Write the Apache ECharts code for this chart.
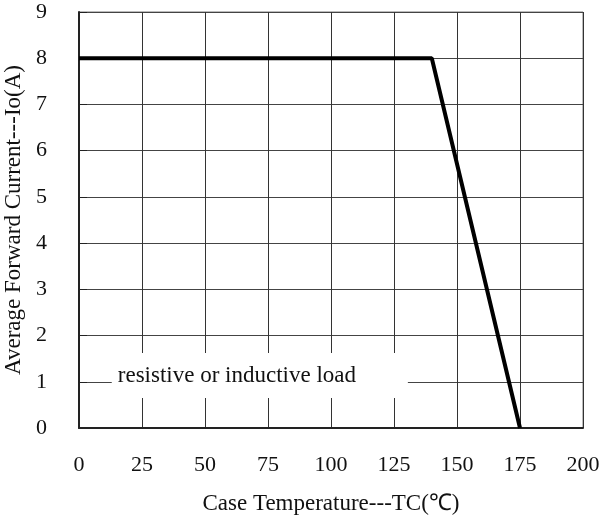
<!DOCTYPE html>
<html>
<head>
<meta charset="utf-8">
<script src="https://cdn.jsdelivr.net/npm/echarts@6/dist/echarts.min.js"></script>
<style>
html,body{margin:0;padding:0;background:#fff;}
#chart{width:602px;height:519px;}
</style>
</head>
<body>
<div id="chart"></div>
<script>
// derating curve: case temperature vs average forward current
var tempPoints = [0, 140, 175];
var currentPoints = [8, 8, 0];
var xTicks = [0, 25, 50, 75, 100, 125, 150, 175, 200];
var yTicks = [0, 1, 2, 3, 4, 5, 6, 7, 8, 9];
var noteText = 'resistive or inductive load';
var noteBox = [[13, 1.62], [130.5, 0.65]];

var font = 'Liberation Serif';
var myChart = echarts.init(document.getElementById('chart'));

var option = {
    backgroundColor: '#fff',
    animation: false,
    grid: {
        left: 79,
        right: 19,
        top: 12,
        bottom: 91,
        outerBoundsMode: 'none',
        containLabel: false,
        show: true,
        borderColor: '#777',
        borderWidth: 1
    },
    xAxis: {
        type: 'value',
        min: xTicks[0],
        max: xTicks[xTicks.length - 1],
        interval: 25,
        name: 'Case Temperature---TC(℃)',
        nameLocation: 'middle',
        nameGap: 64,
        nameTextStyle: {fontFamily: font, fontSize: 23, color: '#111'},
        axisLine: {show: true, onZero: false, lineStyle: {color: '#222', width: 2}},
        axisTick: {show: false},
        axisLabel: {fontFamily: font, fontSize: 22, color: '#111', margin: 26},
        splitLine: {show: true, lineStyle: {color: '#333', width: 1}}
    },
    yAxis: {
        type: 'value',
        min: yTicks[0],
        max: yTicks[yTicks.length - 1],
        interval: 1,
        name: 'Average Forward Current---Io(A)',
        nameLocation: 'middle',
        nameGap: 48,
        nameTextStyle: {fontFamily: font, fontSize: 23, color: '#111'},
        axisLine: {show: true, onZero: false, lineStyle: {color: '#222', width: 2}},
        axisTick: {show: true, inside: true, length: 8, lineStyle: {color: '#222', width: 1}},
        axisLabel: {fontFamily: font, fontSize: 22, color: '#111', margin: 32},
        splitLine: {show: true, lineStyle: {color: '#444', width: 1}}
    },
    series: [
        {
            type: 'line',
            data: tempPoints.map(function (t, i) { return [t, currentPoints[i]]; }),
            symbol: 'none',
            lineStyle: {color: '#000', width: 4},
            z: 5,
            markArea: {
                silent: true,
                itemStyle: {color: '#fff', opacity: 1},
                label: {
                    show: true,
                    position: 'insideLeft',
                    distance: 6,
                    formatter: noteText,
                    fontFamily: font,
                    fontSize: 23,
                    color: '#111'
                },
                data: [[{coord: noteBox[0]}, {coord: noteBox[1]}]]
            }
        }
    ]
};

myChart.setOption(option);
</script>
</body>
</html>
